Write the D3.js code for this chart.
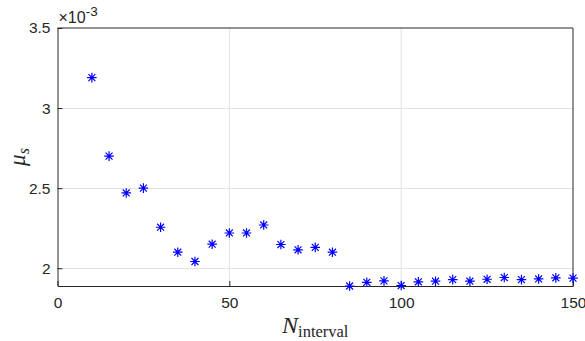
<!DOCTYPE html>
<html>
<head>
<meta charset="utf-8">
<script src="https://cdn.jsdelivr.net/npm/d3@7"></script>
<style>
  body { margin: 0; background: #fff; }
  text { font-family: "Liberation Sans", Arial, sans-serif; }
</style>
</head>
<body>
<div id="chart"></div>
<script>
// data
var nInterval = [10, 15, 20, 25, 30, 35, 40, 45, 50, 55, 60, 65, 70, 75, 80,
                 85, 90, 95, 100, 105, 110, 115, 120, 125, 130, 135, 140, 145, 150];
var muS = [3.19, 2.70, 2.47, 2.50, 2.256, 2.10, 2.042, 2.15, 2.22, 2.22, 2.27, 2.148, 2.115, 2.13, 2.10,
           1.889, 1.912, 1.921, 1.892, 1.915, 1.919, 1.929, 1.919, 1.931, 1.942, 1.929, 1.933, 1.940, 1.938]; // x 1e-3
var xTicks = [0, 50, 100, 150];
var yTicks = [2, 2.5, 3, 3.5];

var W = 585, H = 341;
var margin = {left: 57.5, right: 12, top: 28, bottom: 55};
var axisColor = "#262626";
var gridColor = "#e3e3e3";

var svg = d3.select("#chart").append("svg")
    .attr("width", W)
    .attr("height", H);

var x = d3.scaleLinear()
    .domain([0, 150])
    .range([margin.left, W - margin.right]);

var y = d3.scaleLinear()
    .domain([d3.min(muS), 3.5])
    .range([H - margin.bottom, margin.top]);

// grid
svg.append("g").selectAll("line")
    .data(xTicks.slice(1, -1))
    .enter().append("line")
    .attr("x1", function(d){ return x(d); })
    .attr("x2", function(d){ return x(d); })
    .attr("y1", y.range()[0])
    .attr("y2", y.range()[1])
    .attr("stroke", gridColor);

svg.append("g").selectAll("line")
    .data(yTicks.slice(0, -1))
    .enter().append("line")
    .attr("x1", x.range()[0])
    .attr("x2", x.range()[1])
    .attr("y1", function(d){ return Math.round(y(d)) + 0.5; })
    .attr("y2", function(d){ return Math.round(y(d)) + 0.5; })
    .attr("stroke", gridColor);

// axes (inward ticks, MATLAB style)
var xAxis = svg.append("g")
    .attr("transform", "translate(0," + y.range()[0] + ")")
    .call(d3.axisBottom(x).tickValues(xTicks).tickSizeInner(-5).tickSizeOuter(0).tickPadding(11));

var yAxis = svg.append("g")
    .attr("transform", "translate(" + x.range()[0] + ",0)")
    .call(d3.axisLeft(y).tickValues(yTicks).tickSizeInner(-5).tickSizeOuter(0).tickPadding(7)
          .tickFormat(d3.format("")));

[xAxis, yAxis].forEach(function(g){
    g.select(".domain").attr("stroke", axisColor);
    g.selectAll(".tick line").attr("stroke", axisColor);
    g.selectAll(".tick text")
        .attr("fill", axisColor)
        .style("font-size", "15.5px")
        .style("font-family", "'Liberation Sans', Arial, sans-serif");
});

// top and right box edges
svg.append("line")
    .attr("x1", x.range()[0]).attr("x2", x.range()[1])
    .attr("y1", y.range()[1]).attr("y2", y.range()[1])
    .attr("stroke", axisColor);
svg.append("line")
    .attr("x1", x.range()[1]).attr("x2", x.range()[1])
    .attr("y1", y.range()[0]).attr("y2", y.range()[1])
    .attr("stroke", axisColor);

// exponent label
var expo = svg.append("text")
    .attr("x", margin.left + 1)
    .attr("y", 23)
    .attr("fill", axisColor)
    .style("font-size", "16px");
expo.append("tspan").text("\u00d710");
expo.append("tspan").attr("dy", -7).style("font-size", "13.5px").text("-3");

// asterisk markers
var r = 4.8, rd = r * 0.72;
var star = "M" + (-r) + ",0H" + r + "M0," + (-r) + "V" + r +
           "M" + (-rd) + "," + (-rd) + "L" + rd + "," + rd +
           "M" + (-rd) + "," + rd + "L" + rd + "," + (-rd);

svg.append("g").selectAll("path")
    .data(nInterval)
    .enter().append("path")
    .attr("d", star)
    .attr("transform", function(d, i){ return "translate(" + x(d) + "," + y(muS[i]) + ")"; })
    .attr("fill", "none")
    .attr("stroke", "#0000ff")
    .attr("stroke-width", 1.2);

// axis labels
var xl = svg.append("text")
    .attr("x", (x.range()[0] + x.range()[1]) / 2)
    .attr("y", 333)
    .attr("text-anchor", "middle")
    .attr("fill", axisColor)
    .style("font-family", "'Liberation Serif', 'Times New Roman', serif");
xl.append("tspan").style("font-style", "italic").style("font-size", "24px").text("N");
xl.append("tspan").attr("dy", 4).style("font-size", "16.5px").text("interval");

var yl = svg.append("text")
    .attr("transform", "translate(25," + ((y.range()[0] + y.range()[1]) / 2) + ") rotate(-90)")
    .attr("text-anchor", "middle")
    .attr("fill", axisColor)
    .style("font-family", "'Liberation Serif', 'Times New Roman', serif");
yl.append("tspan").style("font-style", "italic").style("font-size", "23px").text("\u03bc");
yl.append("tspan").attr("dy", 4).style("font-style", "italic").style("font-size", "16px").text("s");
</script>
</body>
</html>
